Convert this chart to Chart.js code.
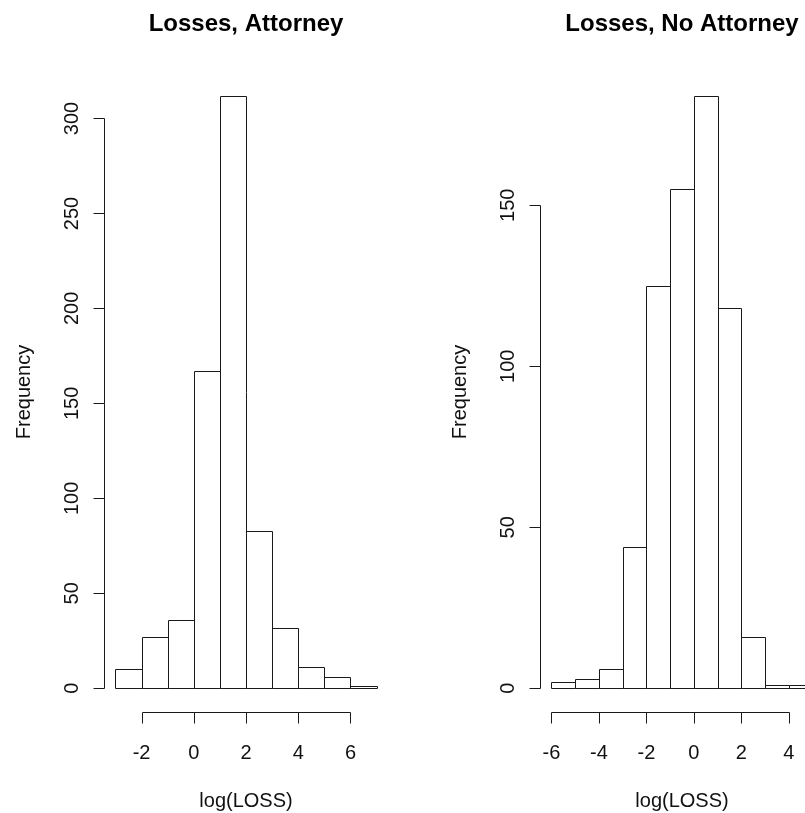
<!DOCTYPE html>
<html>
<head>
<meta charset="utf-8">
<script src="https://cdn.jsdelivr.net/npm/chart.js@4.4.1/dist/chart.umd.min.js"></script>
<style>
    body { margin: 0; background: #fff; overflow: hidden; }
    #wrap { position: relative; width: 805px; height: 813px; overflow: hidden; }
    canvas { position: absolute; top: 0; }
</style>
</head>
<body>
<div id="wrap">
    <canvas id="attChart" width="402" height="813" style="left:0"></canvas>
    <canvas id="noAttChart" width="440" height="813" style="left:402px"></canvas>
</div>
<script>
// log(LOSS) histograms: bin edges + counts
const attEdges = [-3, -2, -1, 0, 1, 2, 3, 4, 5, 6, 7];
const attCounts = [10, 27, 36, 167, 312, 83, 32, 11, 6, 1];
const attYTicks = [0, 50, 100, 150, 200, 250, 300];
const attXTicks = [-2, 0, 2, 4, 6];

const noAttEdges = [-6, -5, -4, -3, -2, -1, 0, 1, 2, 3, 4, 5];
const noAttCounts = [2, 3, 6, 44, 125, 155, 184, 118, 16, 1, 1];
const noAttYTicks = [0, 50, 100, 150];
const noAttXTicks = [-6, -4, -2, 0, 2, 4];

const lineColor = '#1a1a1a';
const fontFamily = '"Liberation Sans", Arial, sans-serif';

// outline every bar with a single 1px line (shared edges not doubled)
const barOutline = {
    id: 'barOutline',
    afterDatasetsDraw(chart) {
        const { ctx } = chart;
        const meta = chart.getDatasetMeta(0);
        ctx.save();
        ctx.strokeStyle = lineColor;
        ctx.lineWidth = 1;
        ctx.beginPath();
        meta.data.forEach(bar => {
            const l = Math.round(bar.x - bar.width / 2) + 0.5;
            const r = Math.round(bar.x + bar.width / 2) + 0.5;
            const t = Math.round(bar.y) + 0.5;
            const b = Math.round(bar.base) + 0.5;
            ctx.rect(l, t, r - l, b - t);
        });
        ctx.stroke();
        ctx.restore();
    }
};

// R style axes: line only between first and last tick, drawn outside plot area
const rAxes = {
    id: 'rAxes',
    afterDraw(chart, args, opts) {
        const { ctx, chartArea: { left, right, top, bottom }, scales: { x, y } } = chart;
        const tickLen = 11;
        ctx.save();
        ctx.strokeStyle = lineColor;
        ctx.fillStyle = '#111';
        ctx.lineWidth = 1;

        // y axis
        const ax = Math.round(left) - 0.5;
        const y0 = Math.round(y.getPixelForValue(opts.yTicks[0])) + 0.5;
        const y1 = Math.round(y.getPixelForValue(opts.yTicks[opts.yTicks.length - 1])) + 0.5;
        ctx.beginPath();
        ctx.moveTo(ax, y0);
        ctx.lineTo(ax, y1);
        opts.yTicks.forEach(v => {
            const py = Math.round(y.getPixelForValue(v)) + 0.5;
            ctx.moveTo(ax, py);
            ctx.lineTo(ax - tickLen, py);
        });
        // x axis
        const ay = Math.round(bottom) + 0.5;
        const x0 = Math.round(x.getPixelForValue(opts.xTicks[0])) + 0.5;
        const x1 = Math.round(x.getPixelForValue(opts.xTicks[opts.xTicks.length - 1])) + 0.5;
        ctx.moveTo(x0, ay);
        ctx.lineTo(x1, ay);
        opts.xTicks.forEach(v => {
            const px = Math.round(x.getPixelForValue(v)) + 0.5;
            ctx.moveTo(px, ay);
            ctx.lineTo(px, ay + tickLen);
        });
        ctx.stroke();

        ctx.font = '20px ' + fontFamily;
        ctx.textAlign = 'center';
        ctx.textBaseline = 'middle';
        opts.xTicks.forEach(v => {
            ctx.fillText(String(v), x.getPixelForValue(v), bottom + 41);
        });
        opts.yTicks.forEach(v => {
            ctx.save();
            ctx.translate(left - 33, y.getPixelForValue(v));
            ctx.rotate(-Math.PI / 2);
            ctx.fillText(String(v), 0, 0);
            ctx.restore();
        });

        // axis titles
        ctx.fillText(opts.xTitle, (left + right) / 2, bottom + 89);
        ctx.save();
        ctx.translate(left - 81, (top + bottom) / 2);
        ctx.rotate(-Math.PI / 2);
        ctx.fillText(opts.yTitle, 0, 0);
        ctx.restore();

        // main title
        ctx.fillStyle = '#000';
        ctx.font = 'bold 24px ' + fontFamily;
        ctx.textBaseline = 'alphabetic';
        ctx.fillText(opts.title, (left + right) / 2, 31);
        ctx.restore();
    }
};

function makeHist(canvasId, edges, counts, xTicks, yTicks, title, padding) {
    const n = counts.length;
    const points = counts.map((c, i) => ({ x: (edges[i] + edges[i + 1]) / 2, y: c }));
    const xPad = (edges[n] - edges[0]) * 0.04;
    const yMax = Math.max(...counts);
    const yPad = yMax * 0.04;
    return new Chart(document.getElementById(canvasId), {
        type: 'bar',
        data: {
            datasets: [{
                data: points,
                backgroundColor: '#fff',
                borderWidth: 0,
                barPercentage: 1,
                categoryPercentage: 1
            }]
        },
        options: {
            responsive: false,
            animation: false,
            layout: { padding: padding },
            scales: {
                x: { type: 'linear', display: false, offset: false, min: edges[0] - xPad, max: edges[n] + xPad },
                y: { display: false, min: -yPad, max: yMax + yPad }
            },
            plugins: {
                legend: { display: false },
                tooltip: { enabled: false },
                rAxes: { xTicks: xTicks, yTicks: yTicks, title: title, xTitle: 'log(LOSS)', yTitle: 'Frequency' }
            }
        },
        plugins: [barOutline, rAxes]
    });
}

makeHist('attChart', attEdges, attCounts, attXTicks, attYTicks, 'Losses, Attorney',
    { left: 105, right: 15, top: 72, bottom: 101 });
makeHist('noAttChart', noAttEdges, noAttCounts, noAttXTicks, noAttYTicks, 'Losses, No Attorney',
    { left: 139, right: 19, top: 72, bottom: 101 });
</script>
</body>
</html>
